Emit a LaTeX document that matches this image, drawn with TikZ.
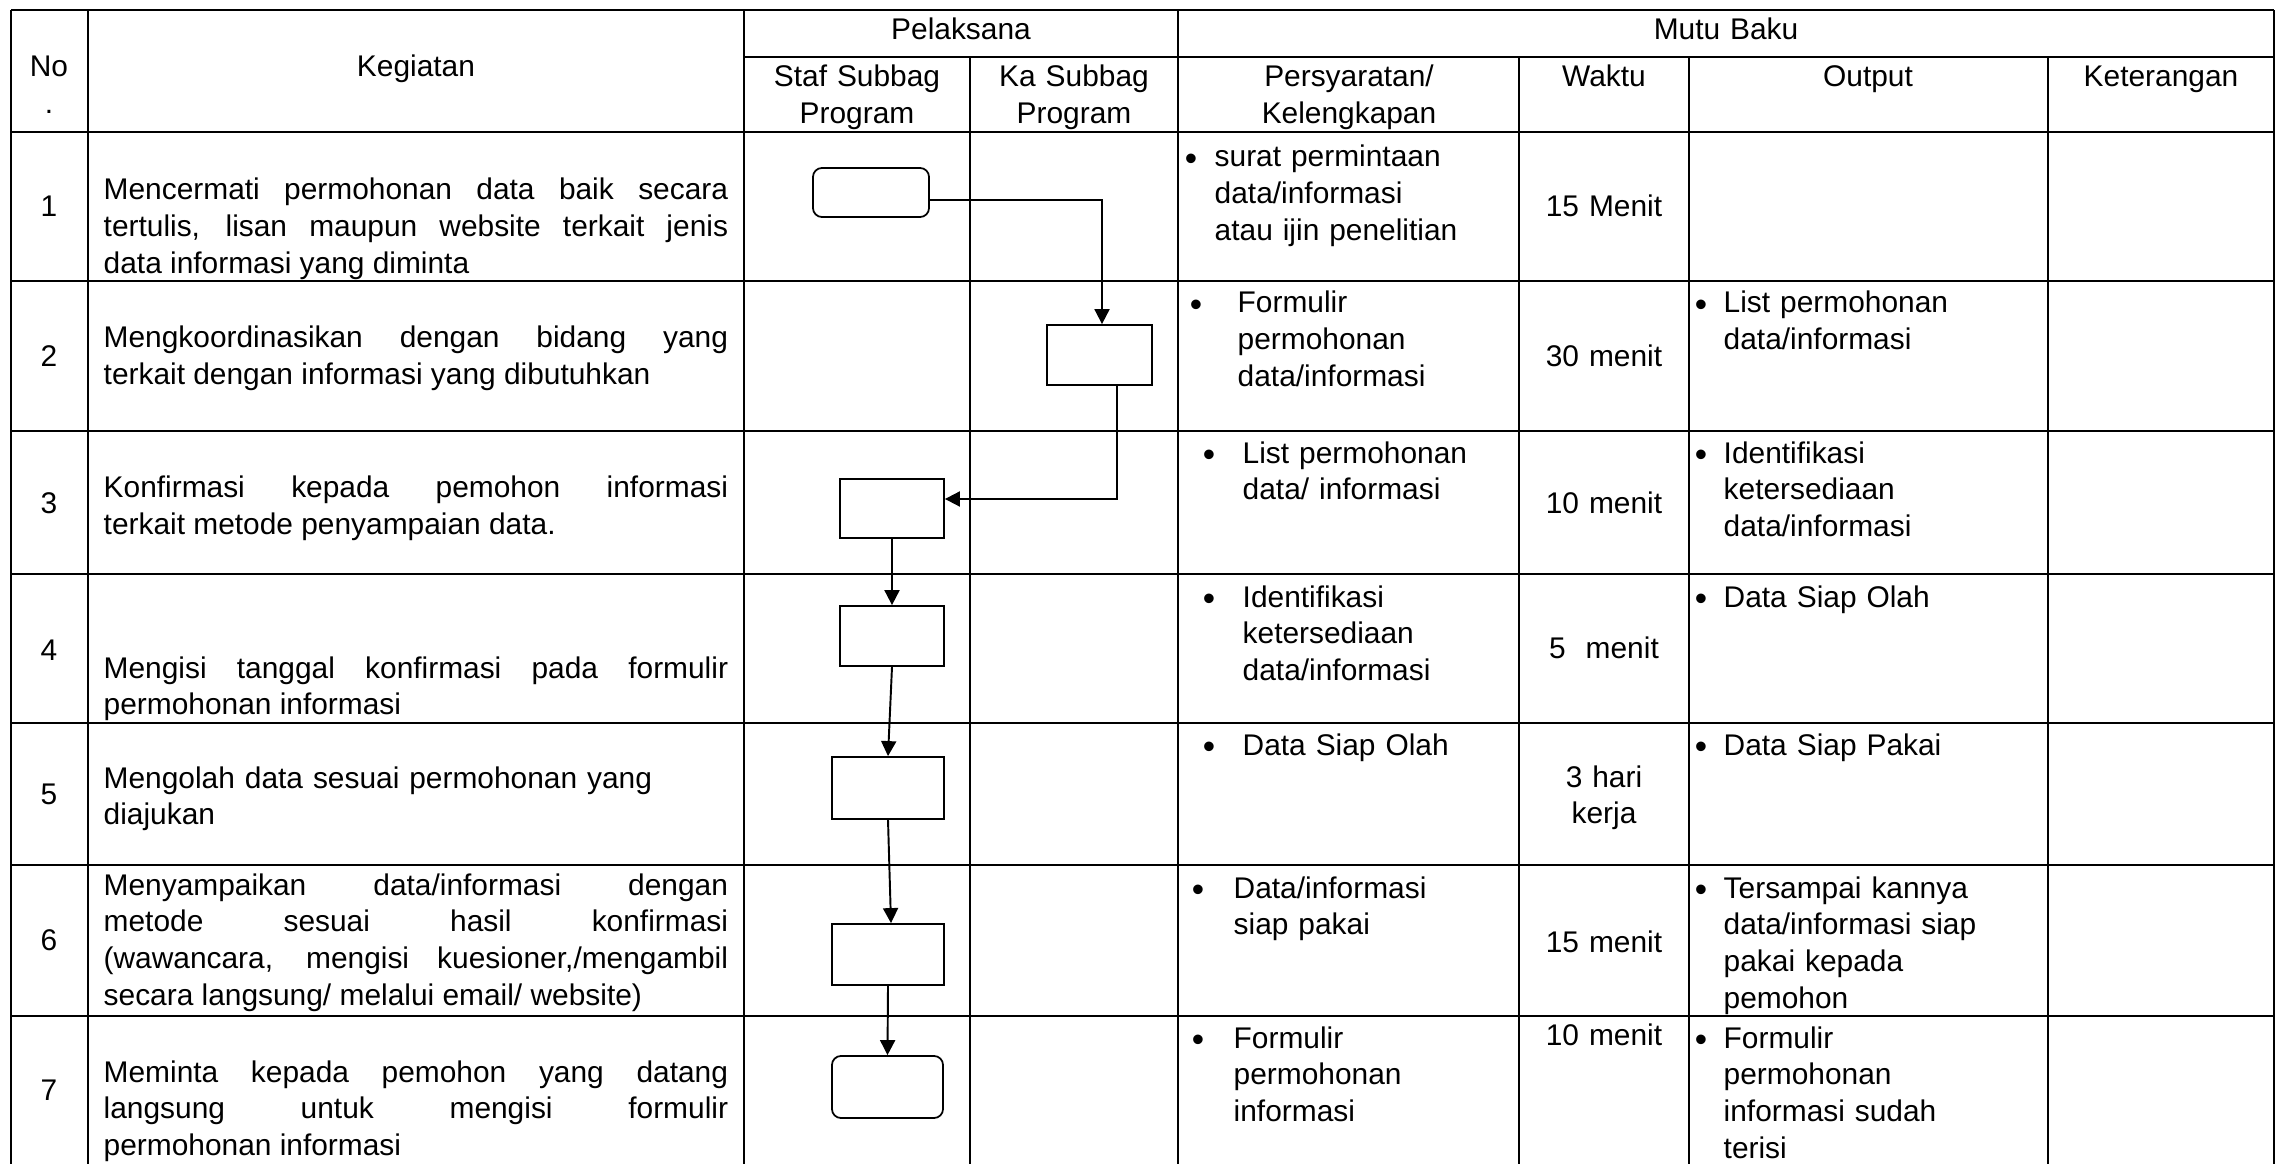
\documentclass[tikz,border=0pt]{standalone}
\usepackage{fontspec}
\setmainfont{Liberation Sans}
\usetikzlibrary{arrows.meta}

\newcommand{\sopsize}{\fontsize{8.5}{10.45}\selectfont}

\tikzset{
  grid/.style={line width=0.55pt},
  txt/.style={font=\sopsize, inner sep=0pt, anchor=base west, text width=3.5cm, align=left},
  txtc/.style={font=\sopsize, inner sep=0pt, anchor=base, text width=3cm, align=center},
  bul/.style={font=\fontsize{10}{12}\selectfont, inner sep=0pt, anchor=base, yshift=-0.9pt},
  keg/.style={font=\sopsize, inner sep=0pt, anchor=base west, text width=6.24cm, align=justify},
  proc/.style={draw, line width=0.5pt, inner sep=0pt},
  term/.style={draw, line width=0.5pt, rounded corners=0.09cm, inner sep=0pt},
  flow/.style={line width=0.55pt, -{Triangle[length=0.15cm,width=0.15cm]}}
}

\begin{document}
\begin{tikzpicture}[x=0.01cm, y=-0.01cm]
    \useasboundingbox (0,0) rectangle (2285,1164);

    % Table grid
    \draw[grid] (11,10) -- (2274,10);
    \draw[grid] (744,57) -- (2274,57);
    \foreach \y in {132,281,431,574,723,865,1016}
        \draw[grid] (11,\y) -- (2274,\y);
    \foreach \x in {11,88,744,1178,2274}
        \draw[grid] (\x,10) -- (\x,1164);
    \foreach \x in {970,1519,1689,2048}
        \draw[grid] (\x,57) -- (\x,1164);

    % Header
    \node[txtc] (hno) at (49,77) {No\\.};
    \node[txtc] (hkeg) at (416,77) {Kegiatan};
    \node[txtc] (hpel) at (961,40) {Pelaksana};
    \node[txtc] (hstaf) at (857,87) {Staf Subbag\\Program};
    \node[txtc] (hka) at (1074,87) {Ka Subbag\\Program};
    \node[txtc] (hmutu) at (1726,40) {Mutu Baku};
    \node[txtc] (hsyarat) at (1349,87) {Persyaratan/\\Kelengkapan};
    \node[txtc] (hwaktu) at (1604,87) {Waktu};
    \node[txtc] (hout) at (1868,87) {Output};
    \node[txtc] (hket) at (2161,87) {Keterangan};

    % No
    \node[txtc] (n1) at (49,217) {1};
    \node[txtc] (n2) at (49,367) {2};
    \node[txtc] (n3) at (49,513) {3};
    \node[txtc] (n4) at (49,660) {4};
    \node[txtc] (n5) at (49,804) {5};
    \node[txtc] (n6) at (49,950) {6};
    \node[txtc] (n7) at (49,1100) {7};

    % Kegiatan
    \node[keg] (k1) at (103,200) {Mencermati permohonan data baik secara\linebreak tertulis, lisan maupun website terkait jenis\linebreak data informasi yang diminta};
    \node[keg] (k2) at (103,348) {Mengkoordinasikan dengan bidang yang\linebreak terkait dengan informasi yang dibutuhkan};
    \node[keg] (k3) at (103,498) {Konfirmasi kepada pemohon informasi\linebreak terkait metode penyampaian data.};
    \node[keg] (k4) at (103,678) {Mengisi tanggal konfirmasi pada formulir\linebreak permohonan informasi};
    \node[txt, text width=6.24cm] (k5) at (103,788) {Mengolah data sesuai permohonan yang\\diajukan};
    \node[keg] (k6) at (103,895) {Menyampaikan data/informasi dengan\linebreak metode sesuai hasil konfirmasi\linebreak (wawancara, mengisi kuesioner,/mengambil\linebreak secara langsung/ melalui email/ website)};
    \node[keg] (k7) at (103,1082) {Meminta kepada pemohon yang datang\linebreak langsung untuk mengisi formulir\linebreak permohonan informasi};

    % Flow boxes
    \node[term, minimum width=1.16cm, minimum height=0.49cm] (b1) at (871,192.5) {};
    \node[proc, minimum width=1.05cm, minimum height=0.60cm] (b2) at (1099.5,355) {};
    \node[proc, minimum width=1.04cm, minimum height=0.59cm] (b3) at (892,508.5) {};
    \node[proc, minimum width=1.04cm, minimum height=0.60cm] (b4) at (892,636) {};
    \node[proc, minimum width=1.12cm, minimum height=0.62cm] (b5) at (888,788) {};
    \node[proc, minimum width=1.12cm, minimum height=0.61cm] (b6) at (888,954.5) {};
    \node[term, minimum width=1.11cm, minimum height=0.62cm] (b7) at (887.5,1087) {};

    % Flow arrows
    \draw[flow] ([yshift=-0.075cm]b1.east) -| ([xshift=0.025cm]b2.north);
    \draw[flow] ([xshift=0.175cm]b2.south) |- ([yshift=0.095cm]b3.east);
    \draw[flow] (b3.south) -- (b4.north);
    \draw[flow] (b4.south) -- (b5.north);
    \draw[flow] (b5.south) -- ([xshift=0.03cm]b6.north);
    \draw[flow] (b6.south) -- (b7.north);

    % Persyaratan
    \node[bul] (s1b) at (1191,167) {•};
    \node[txt] (s1) at (1214,167) {surat permintaan\\data/informasi\\atau ijin penelitian};
    \node[bul] (s2b) at (1196,313) {•};
    \node[txt] (s2) at (1237,313) {Formulir\\permohonan\\data/informasi};
    \node[bul] (s3b) at (1209,463) {•};
    \node[txt] (s3) at (1242,463) {List permohonan\\data/ informasi};
    \node[bul] (s4b) at (1209,607) {•};
    \node[txt] (s4) at (1242,607) {Identifikasi\\ketersediaan\\data/informasi};
    \node[bul] (s5b) at (1209,755) {•};
    \node[txt] (s5) at (1242,755) {Data Siap Olah};
    \node[bul] (s6b) at (1198,898) {•};
    \node[txt] (s6) at (1233,898) {Data/informasi\\siap pakai};
    \node[bul] (s7b) at (1198,1048) {•};
    \node[txt] (s7) at (1233,1048) {Formulir\\permohonan\\informasi};

    % Waktu
    \node[txtc] (w1) at (1604,217) {15 Menit};
    \node[txtc] (w2) at (1604,367) {30 menit};
    \node[txtc] (w3) at (1604,513) {10 menit};
    \node[txtc] (w4) at (1604,658) {5\ \ menit};
    \node[txtc] (w5) at (1604,787) {3 hari\\kerja};
    \node[txtc] (w6) at (1604,952) {15 menit};
    \node[txtc] (w7) at (1604,1045) {10 menit};

    % Output
    \node[bul] (o2b) at (1701,313) {•};
    \node[txt] (o2) at (1723,313) {List permohonan\\data/informasi};
    \node[bul] (o3b) at (1701,463) {•};
    \node[txt] (o3) at (1723,463) {Identifikasi\\ketersediaan\\data/informasi};
    \node[bul] (o4b) at (1701,607) {•};
    \node[txt] (o4) at (1723,607) {Data Siap Olah};
    \node[bul] (o5b) at (1701,755) {•};
    \node[txt] (o5) at (1723,755) {Data Siap Pakai};
    \node[bul] (o6b) at (1701,898) {•};
    \node[txt] (o6) at (1723,898) {Tersampai kannya\\data/informasi siap\\pakai kepada\\pemohon};
    \node[bul] (o7b) at (1701,1048) {•};
    \node[txt] (o7) at (1723,1048) {Formulir\\permohonan\\informasi sudah\\terisi};
\end{tikzpicture}
\end{document}
